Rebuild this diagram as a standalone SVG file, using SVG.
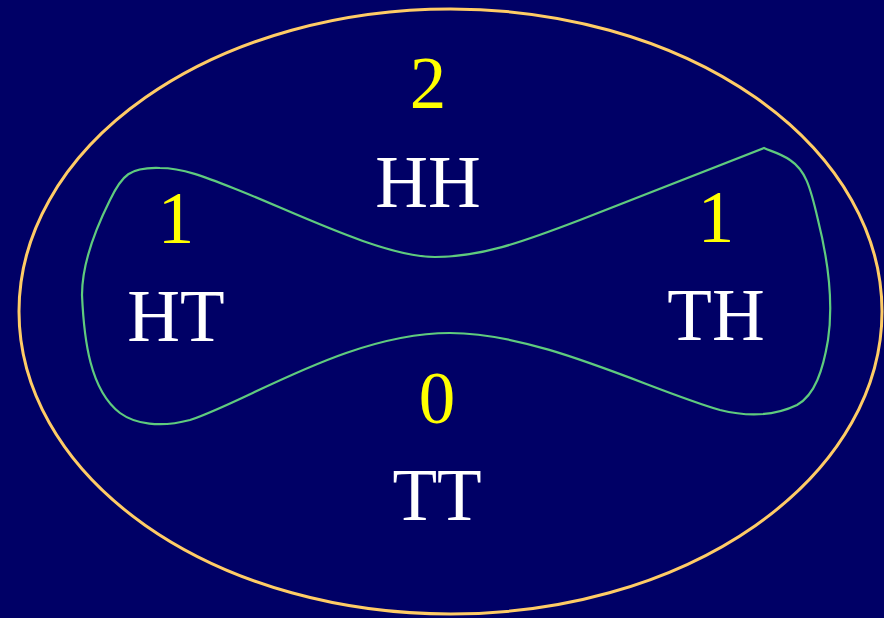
<svg xmlns="http://www.w3.org/2000/svg" width="884" height="618" viewBox="0 0 884 618">
<style>
.n{font-family:"Liberation Serif","Times New Roman",serif;font-size:73px;text-anchor:middle}
.y{fill:#FFFF00}
.w{fill:#FFFFFF}
</style>
<rect x="0" y="0" width="884" height="618" fill="#000066"/>
<g id="outcomes">
<ellipse cx="450.5" cy="311.5" rx="431.5" ry="302.5" fill="none" stroke="#FFCC66" stroke-width="3"/>
</g>
<g id="event">
<path d="M764,148 L580,220 C520,243 480,257 435,257 C385,257 300,215 243,192 C210,179 185,168 160,168 C130,167 122,175 110,200 C95,230 82,265 82,295 C84,340 90,390 120,413 C135,424 160,428 190,420 C250,400 350,333 450,333 C540,333 650,390 720,410 C740,415 770,418 797,405 C815,395 823,370 828,340 C834,300 828,260 818,220 C810,185 805,170 790,160 C780,153 770,151 764,148 Z" fill="none" stroke="#5FCB7E" stroke-width="2.2"/>
</g>
<g id="HH"><text class="n y" x="428" y="108">2</text><text class="n w" x="428" y="207">HH</text></g>
<g id="HT"><text class="n y" x="176" y="243">1</text><text class="n w" x="176" y="341">HT</text></g>
<g id="TH"><text class="n y" x="716" y="242">1</text><text class="n w" x="716" y="340">TH</text></g>
<g id="TT"><text class="n y" x="437" y="423">0</text><text class="n w" x="437" y="520">TT</text></g>
</svg>
